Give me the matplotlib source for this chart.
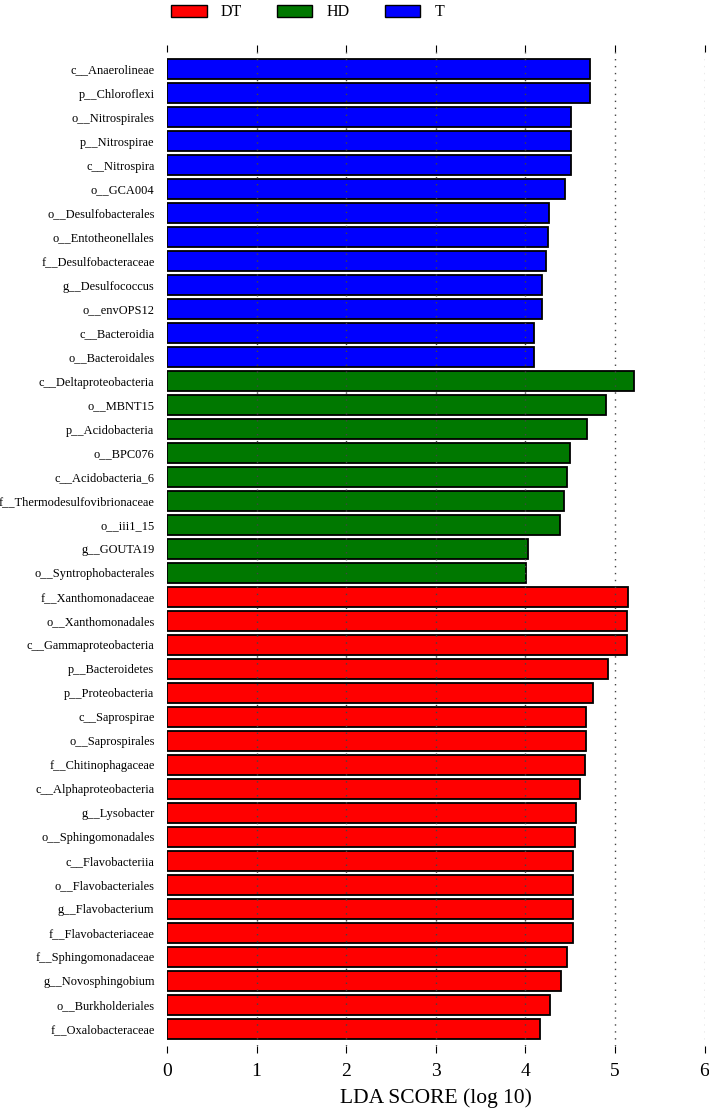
import matplotlib
matplotlib.use("Agg")
import matplotlib.pyplot as plt
import numpy as np

plt.rcParams["font.family"] = ["Liberation Serif", "DejaVu Serif"]

# LEfSe results, top to bottom
labels = [
    "c__Anaerolineae", "p__Chloroflexi", "o__Nitrospirales", "p__Nitrospirae",
    "c__Nitrospira", "o__GCA004", "o__Desulfobacterales", "o__Entotheonellales",
    "f__Desulfobacteraceae", "g__Desulfococcus", "o__envOPS12", "c__Bacteroidia",
    "o__Bacteroidales",
    "c__Deltaproteobacteria", "o__MBNT15", "p__Acidobacteria", "o__BPC076",
    "c__Acidobacteria_6", "f__Thermodesulfovibrionaceae", "o__iii1_15",
    "g__GOUTA19", "o__Syntrophobacterales",
    "f__Xanthomonadaceae", "o__Xanthomonadales", "c__Gammaproteobacteria",
    "p__Bacteroidetes", "p__Proteobacteria", "c__Saprospirae", "o__Saprospirales",
    "f__Chitinophagaceae", "c__Alphaproteobacteria", "g__Lysobacter",
    "o__Sphingomonadales", "c__Flavobacteriia", "o__Flavobacteriales",
    "g__Flavobacterium", "f__Flavobacteriaceae", "f__Sphingomonadaceae",
    "g__Novosphingobium", "o__Burkholderiales", "f__Oxalobacteraceae",
]
lda = [
    4.72, 4.72, 4.505, 4.505, 4.505, 4.44, 4.26, 4.25, 4.23, 4.19, 4.19, 4.10, 4.10,
    5.21, 4.90, 4.69, 4.50, 4.46, 4.43, 4.39, 4.03, 4.01,
    5.15, 5.13, 5.13, 4.92, 4.75, 4.68, 4.68, 4.67, 4.61, 4.57, 4.55,
    4.53, 4.53, 4.53, 4.53, 4.47, 4.40, 4.27, 4.16,
]
groups = ["T"] * 13 + ["HD"] * 9 + ["DT"] * 19

group_names = ["DT", "HD", "T"]
group_colors = {"DT": "#ff0000", "HD": "#007800", "T": "#0000ff"}

fig = plt.figure(figsize=(7.09, 11.08), dpi=100)
ax = fig.add_axes([167 / 709, 1 - 1046 / 1108, (704.5 - 167) / 709, (1046 - 52) / 1108])

y = np.arange(len(labels))
ax.barh(y, lda, height=0.83, color=[group_colors[g] for g in groups],
        edgecolor="black", linewidth=1.3)

ax.set_ylim(len(labels) - 1 + 0.71, -0.71)
ax.set_xlim(0, 6)
ax.set_yticks(y)
ax.set_yticklabels(labels, fontsize=8.9)
ax.tick_params(axis="y", length=0, pad=9)
ax.set_xticks(range(7))
ax.tick_params(axis="x", top=True, bottom=True, direction="out", length=5,
               width=0.8, labelsize=14, pad=7)

for s in ax.spines.values():
    s.set_visible(False)

# dotted guide lines drawn over the bars
ax.set_axisbelow(False)
ax.xaxis.grid(True, linestyle=(0, (1, 4)), linewidth=1.0, color="#444444")
ax.yaxis.grid(False)
ax.xaxis.get_gridlines()[0].set_visible(False)
ax.xaxis.get_gridlines()[-1].set_color("#999999")

ax.set_xlabel("LDA SCORE (log 10)", fontsize=15.5, labelpad=6)

handles = [plt.Rectangle((0, 0), 1, 1, facecolor=group_colors[g], edgecolor="black",
                         linewidth=1.0) for g in group_names]
fig.legend(handles, group_names, loc="upper left", bbox_to_anchor=(157 / 709, 1.009),
           ncol=3, frameon=False, fontsize=11.5, handlelength=2.2, handleheight=0.8,
           handletextpad=0.9, columnspacing=2.2)

fig.savefig("out.png", dpi=100)
